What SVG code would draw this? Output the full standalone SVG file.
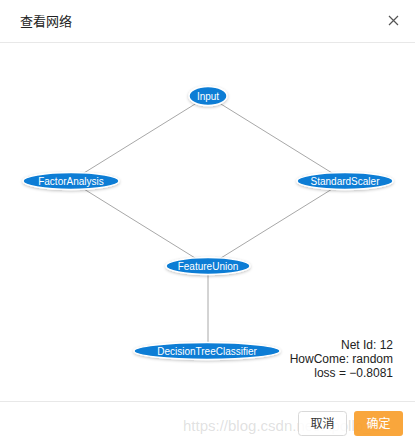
<svg xmlns="http://www.w3.org/2000/svg" width="415" height="443" viewBox="0 0 415 443">
<style>
.t{font-family:"Liberation Sans","Noto Sans CJK SC",sans-serif}
.node ellipse{fill:#0a7dd5;stroke:#ffffff;stroke-width:1.5;filter:url(#sh)}
.node text{fill:#ffffff;font-size:10px;text-anchor:middle;dominant-baseline:central}
.edge{stroke:#a8a8a8;stroke-width:1;fill:none}
.info{font-size:12px;fill:#222;text-anchor:end}
</style>
<defs>
<filter id="sh" x="-20%" y="-60%" width="140%" height="220%">
<feGaussianBlur in="SourceAlpha" stdDeviation="1.5"/>
<feOffset dx="0" dy="0.5" result="b"/>
<feFlood flood-color="#000" flood-opacity="0.25"/>
<feComposite in2="b" operator="in"/>
<feMerge><feMergeNode/><feMergeNode in="SourceGraphic"/></feMerge>
</filter>
</defs>
<rect width="415" height="443" fill="#ffffff"/>
<text class="t" x="20" y="26" font-size="13" fill="#222">查看网络</text>
<path d="M389 16 L398 25 M398 16 L389 25" stroke="#555" stroke-width="1.2"/>
<line x1="0" y1="42.5" x2="415" y2="42.5" stroke="#e8e8e8"/>
<g id="connectors">
<line class="edge" x1="208" y1="96" x2="71" y2="181"/>
<line class="edge" x1="208" y1="96" x2="345" y2="181"/>
<line class="edge" x1="71" y1="181" x2="208" y2="266"/>
<line class="edge" x1="345" y1="181" x2="208" y2="266"/>
<line class="edge" x1="208" y1="266" x2="208" y2="351"/>
</g>
<g id="Input" class="node t"><ellipse cx="208" cy="96" rx="19" ry="9.5"/><text x="208" y="96">Input</text></g>
<g id="FactorAnalysis" class="node t"><ellipse cx="71" cy="181" rx="48" ry="8.5"/><text x="71" y="181">FactorAnalysis</text></g>
<g id="StandardScaler" class="node t"><ellipse cx="345" cy="181" rx="48" ry="8.5"/><text x="345" y="181">StandardScaler</text></g>
<g id="FeatureUnion" class="node t"><ellipse cx="208" cy="266" rx="42" ry="8.5"/><text x="208" y="266">FeatureUnion</text></g>
<g id="DecisionTreeClassifier" class="node t"><ellipse cx="207" cy="351" rx="73" ry="8.5"/><text x="207" y="351">DecisionTreeClassifier</text></g>
<g class="t">
<text class="info" x="393" y="349">Net Id: 12</text>
<text class="info" x="393" y="363">HowCome: random</text>
<text class="info" x="393" y="377">loss = −0.8081</text>
</g>
<line x1="0" y1="401.5" x2="415" y2="401.5" stroke="#e8e8e8"/>
<text class="t" x="183" y="431" font-size="15" fill="#999" fill-opacity="0.3">https://blog.csdn.net/Apollo_21</text>
<rect x="298.5" y="411.5" width="48" height="24" rx="3" fill="#fff" fill-opacity="0.85" stroke="#d9d9d9"/>
<text class="t" x="322.5" y="428" font-size="12" fill="#333" text-anchor="middle">取消</text>
<rect x="354" y="411" width="49" height="25" rx="3" fill="#f89e2b" fill-opacity="0.92"/>
<text class="t" x="378.5" y="428" font-size="12" fill="#fff" text-anchor="middle">确定</text>
</svg>
